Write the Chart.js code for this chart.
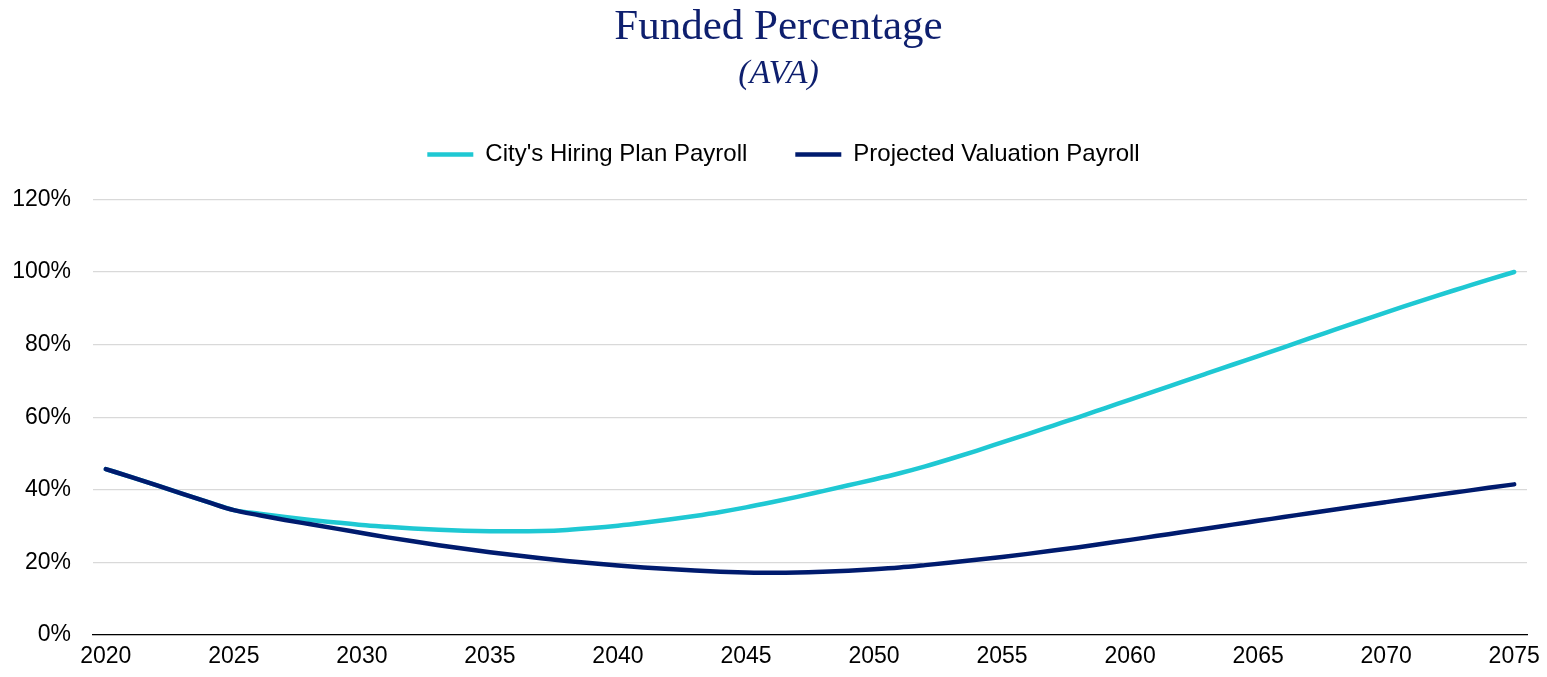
<!DOCTYPE html>
<html>
<head>
<meta charset="utf-8">
<title>Funded Percentage</title>
<script src="https://cdn.jsdelivr.net/npm/chart.js@4.4.0/dist/chart.umd.min.js"></script>
<style>
  html, body { margin: 0; padding: 0; background: #fff; }
  #wrap { width: 1547px; height: 677px; position: relative; }
</style>
</head>
<body>
<div id="wrap"><canvas id="lineChart"></canvas></div>
<script>
// years 2020 - 2075
const years = [];
for (let y = 2020; y <= 2075; y++) years.push(String(y));

// funded % (AVA)
const hiringPlan = [
  45.7, 43.5, 41.2, 38.9, 36.6, 34.4, 33.4, 32.5, 31.7, 31.0,
  30.3, 29.8, 29.35, 29.0, 28.75, 28.6, 28.55, 28.65, 28.95, 29.45,
  30.1, 30.9, 31.8, 32.8, 33.9, 35.15, 36.55, 38.05, 39.65, 41.25,
  42.85, 44.55, 46.45, 48.55, 50.75, 53.05, 55.35, 57.7, 60.05, 62.45,
  64.85, 67.25, 69.65, 72.05, 74.45, 76.85, 79.25, 81.7, 84.1, 86.5,
  88.9, 91.2, 93.5, 95.7, 97.9, 100.0
];
const valuationPayroll = [
  45.7, 43.5, 41.2, 38.9, 36.6, 34.4, 33.0, 31.7, 30.5, 29.3,
  28.1, 26.9, 25.8, 24.75, 23.75, 22.8, 21.95, 21.15, 20.4, 19.75,
  19.15, 18.6, 18.15, 17.75, 17.45, 17.25, 17.15, 17.2, 17.4, 17.7,
  18.1, 18.6, 19.25, 19.95, 20.7, 21.5, 22.35, 23.25, 24.2, 25.2,
  26.2, 27.25, 28.3, 29.35, 30.4, 31.45, 32.5, 33.55, 34.6, 35.6,
  36.6, 37.6, 38.6, 39.57, 40.54, 41.5
];
const yTicks = [0, 20, 40, 60, 80, 100, 120];

// extra space under the legend, and nudge the header blocks to the right
const headerTweaks = {
  id: "headerTweaks",
  beforeInit(chart) {
    const fit = chart.legend.fit;
    chart.legend.fit = function () {
      fit.bind(chart.legend)();
      this.height += 23;
    };
  },
  afterLayout(chart) {
    chart.boxes.forEach((box) => {
      if (box.position !== "top" || box instanceof Chart.Scale) return;
      box.left += box === chart.legend ? 28 : 18;
    });
  },
};

const ctx = document.getElementById("lineChart").getContext("2d");

new Chart(ctx, {
  type: "line",
  data: {
    labels: years,
    datasets: [
      {
        label: "City's Hiring Plan Payroll",
        data: hiringPlan,
        borderColor: "#1FC8D3",
        backgroundColor: "#1FC8D3",
        borderWidth: 4.5,
        borderCapStyle: "round",
        pointRadius: 0,
        cubicInterpolationMode: "monotone",
        order: 1,
      },
      {
        label: "Projected Valuation Payroll",
        data: valuationPayroll,
        borderColor: "#001B6E",
        backgroundColor: "#001B6E",
        borderWidth: 4.5,
        borderCapStyle: "round",
        pointRadius: 0,
        cubicInterpolationMode: "monotone",
        order: 0,
      },
    ],
  },
  plugins: [headerTweaks],
  options: {
    responsive: true,
    maintainAspectRatio: false,
    animation: false,
    layout: {
      padding: { left: 12, right: 20, bottom: 0, top: 0 },
    },
    scales: {
      x: {
        offset: true,
        grid: { display: false },
        border: { display: true, color: "#000", width: 1.2 },
        afterFit: (axis) => {
          axis.height = 42;
        },
        ticks: {
          autoSkip: false,
          maxRotation: 0,
          color: "#000",
          padding: 0,
          font: { family: "Liberation Sans", size: 23 },
          callback: function (value) {
            const y = Number(this.getLabelForValue(value));
            return y % 5 === 0 ? String(y) : "";
          },
        },
      },
      y: {
        min: yTicks[0],
        max: yTicks[yTicks.length - 1],
        border: { display: false },
        grid: { color: "#D9D9D9", lineWidth: 1.2, drawTicks: false },
        afterBuildTicks: (axis) => {
          axis.ticks = yTicks.map((v) => ({ value: v }));
        },
        afterFit: (axis) => {
          axis.width = 81;
        },
        ticks: {
          color: "#000",
          padding: 22,
          font: { family: "Liberation Sans", size: 23 },
          callback: (v) => v + "%",
        },
      },
    },
    plugins: {
      title: {
        display: true,
        text: "Funded Percentage",
        color: "#0E1F6E",
        font: { family: "Liberation Serif", size: 43, weight: "normal" },
        padding: { top: 2, bottom: 0 },
      },
      subtitle: {
        display: true,
        text: "(AVA)",
        color: "#0E1F6E",
        font: { family: "Liberation Serif", size: 34, style: "italic" },
        padding: { top: 0, bottom: 0 },
      },
      legend: {
        position: "top",
        labels: {
          usePointStyle: true,
          pointStyle: "line",
          pointStyleWidth: 46,
          padding: 48,
          color: "#000",
          font: { family: "Liberation Sans", size: 24 },
          sort: (a, b) => a.datasetIndex - b.datasetIndex,
        },
      },
      tooltip: { enabled: false },
    },
  },
});
</script>
</body>
</html>
